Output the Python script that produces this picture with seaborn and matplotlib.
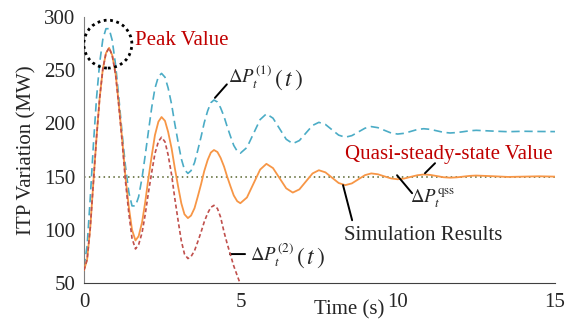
import numpy as np
import pandas as pd
import matplotlib.pyplot as plt
import seaborn as sns
from matplotlib.patches import Ellipse

### time grid (s) shared by the simulation result and the first-order estimate
time_s = [0, 0.1, 0.2, 0.3, 0.4, 0.5, 0.6, 0.7, 0.8,
          0.90, 1.01, 1.11, 1.22, 1.32, 1.43, 1.53, 1.64,
          1.74, 1.85, 1.95, 2.05, 2.16, 2.26, 2.37, 2.47,
          2.58, 2.68, 2.79, 2.89, 3.0, 3.10, 3.20, 3.31,
          3.41, 3.52, 3.62, 3.73, 3.83, 3.94, 4.04, 4.14,
          4.25, 4.35, 4.46, 4.56, 4.67, 4.77, 4.88, 4.98,
          5.19, 5.40, 5.61, 5.81, 6.02, 6.23, 6.44, 6.65,
          6.86, 7.07, 7.28, 7.48, 7.69, 7.90, 8.11, 8.32,
          8.53, 8.74, 8.95, 9.15, 9.36, 9.57, 9.78, 9.99,
          10.20, 10.41, 10.62, 10.82, 11.03, 11.24, 11.45, 11.66,
          11.87, 12.08, 12.29, 12.49, 13.0, 13.5, 14.0, 14.5, 15.0]

### simulation results (MW)
sim_mw = [62, 72, 102, 145, 187, 224, 251, 266, 271,
          264, 246, 218, 184, 150, 121, 100, 90,
          94, 107, 126, 148, 170, 189, 201.6, 206,
          202.4, 192, 176.6, 158.5, 140.4, 124.9, 114.6, 111,
          113.4, 120.3, 130.8, 143, 155.2, 165.7, 172.6, 175,
          173.1, 167.7, 159.5, 150, 140.5, 132.3, 126.9, 125,
          130.4, 143.5, 156.6, 162, 158, 148.5, 139, 135,
          138, 145.5, 153, 156, 154, 149, 144, 142,
          143.6, 147.5, 151.4, 153, 152.2, 150.2, 148.3, 147.5,
          148.2, 149.8, 151.3, 152, 151.6, 150.5, 149.4, 149,
          149.3, 150, 150.7, 151, 150.4, 149.7, 150, 150.3, 150]

### first-order estimate dP_t^(1)(t) (MW)
est1_mw = [65, 85, 130, 180, 224, 257, 279, 289, 289,
           278, 254, 224, 189, 160, 135, 122.5, 122.4,
           131, 149, 170, 192, 215.5, 233, 244, 247,
           243.4, 233.3, 218, 200, 182, 166.7, 156.6, 153,
           155.6, 163.1, 174.3, 187.5, 200.7, 211.9, 219.4, 222,
           220.1, 214.7, 206.5, 197, 187.5, 179.3, 173.9, 172,
           177.4, 190.5, 203.6, 209, 204.9, 195, 185.1, 181,
           183.9, 191, 198.1, 201, 199, 194, 189, 187,
           188.5, 192, 195.5, 197, 196, 193.5, 191, 190,
           190.7, 192.5, 194.3, 195, 194.4, 193, 191.6, 191,
           191.4, 192.2, 193.1, 193.5, 192.8, 192.2, 192.6, 192.4, 192.3]

### second-order estimate dP_t^(2)(t) (MW), runs below the axis after ~5 s
time_red = [0, 0.1, 0.2, 0.3, 0.4, 0.5, 0.6, 0.7, 0.8,
            0.90, 1.01, 1.11, 1.22, 1.32, 1.43, 1.53, 1.64,
            1.74, 1.85, 1.95, 2.05, 2.16, 2.26, 2.37, 2.47,
            2.58, 2.68, 2.79, 2.89, 3.0, 3.10, 3.20, 3.31,
            3.41, 3.52, 3.62, 3.73, 3.83, 3.94, 4.04, 4.14,
            4.25, 4.35, 4.46, 4.56, 4.67, 4.77, 4.88, 4.98, 5.19]
est2_mw = [62, 72, 102, 145, 187, 224, 251, 266, 271,
           264, 245, 216, 181, 146, 115, 92, 82,
           86, 97.3, 114.4, 134.5, 154.6, 171.7, 183, 187,
           182.7, 170.4, 151.8, 130, 108.2, 89.6, 77.3, 73,
           74.9, 80.3, 88.5, 98, 107.5, 115.7, 121.1, 123,
           120, 112, 98, 87, 76, 66, 57, 49, 33]

qss_mw = 150
x_ticks = [0, 5, 10, 15]
y_ticks = [50, 100, 150, 200, 250, 300]

df = pd.DataFrame({'t': time_s, 'sim': sim_mw, 'est1': est1_mw})
df2 = pd.DataFrame({'t': time_red, 'est2': est2_mw})

blue = '#4BACC6'
orange = '#F79646'
red = '#C0504D'
label_red = '#C00000'

sns.set_style("white")
plt.rcParams['font.family'] = ['Liberation Serif', 'DejaVu Serif']
plt.rcParams['mathtext.fontset'] = 'stix'
plt.rcParams['font.size'] = 15

fig, ax = plt.subplots(figsize=(5.76, 3.36), dpi=100)
fig.subplots_adjust(left=0.1458, right=0.9635, bottom=0.1577, top=0.9494)

### quasi-steady-state reference line
ax.axhline(qss_mw, color='#55622a', lw=1.1, linestyle=(0, (1, 2.2)), zorder=1)

sns.lineplot(data=df, x='t', y='est1', ax=ax, color=blue, lw=1.2,
             linestyle=(0, (5, 2.8)), zorder=2)
sns.lineplot(data=df, x='t', y='sim', ax=ax, color=orange, lw=1.3, zorder=3)
sns.lineplot(data=df2, x='t', y='est2', ax=ax, color=red, lw=1.2,
             linestyle=(0, (2.4, 1.6)), zorder=4)

ax.set_xlim(0, 15)
ax.set_ylim(50, 300)
ax.set_xticks(x_ticks)
ax.set_yticks(y_ticks)

sns.despine(ax=ax)
ax.spines['left'].set_color('#7f7f7f')
ax.spines['bottom'].set_color('#404040')
ax.tick_params(axis='both', direction='in', length=5, width=1, color='#7f7f7f',
               labelsize=15, pad=6)
ax.tick_params(axis='x', pad=7)

ax.set_xlabel('Time (s)', fontsize=15)
ax.set_ylabel('ITP Variation (MW)', fontsize=15)
ax.xaxis.set_label_coords(0.563, -0.065)
ax.yaxis.set_label_coords(-0.1, 0.5)

### peak marker
ax.add_patch(Ellipse((0.76, 274.5), 1.53, 45, fill=False, ec='black',
                     lw=2, linestyle=(0, (1, 1.3)), zorder=5))
ax.text(1.62, 278, 'Peak Value', color=label_red, fontsize=15, va='center')


def math_label(x, y, body, with_t=True):
    ### math part plus a taller "( t )" right after it
    txt = ax.text(x, y, body, fontsize=13.5, va='center', ha='left')
    if with_t:
        ax.annotate(r'$(\,t\,)$', xy=(1, 0.42), xycoords=txt, xytext=(1.5, 0),
                    textcoords='offset points', fontsize=17, va='center', ha='left')
    return txt


def leader(p0, p1):
    ax.annotate('', xy=p0, xytext=p1,
                arrowprops=dict(arrowstyle='-', color='black', lw=1.4,
                                shrinkA=0, shrinkB=0))


math_label(4.59, 243, r'$\Delta P_t^{(1)}$')
leader((4.17, 224), (4.55, 236.7))

math_label(5.29, 76, r'$\Delta P_t^{(2)}$')
leader((4.65, 77.2), (5.13, 77.2))

math_label(10.38, 130, r'$\Delta P_t^{\mathrm{qss}}$', with_t=False)
leader((9.97, 151.3), (10.45, 134.4))

ax.text(8.31, 171, 'Quasi-steady-state Value', color=label_red, fontsize=15,
        va='center', ha='left')
leader((10.86, 153.2), (11.18, 162.6))

ax.text(10.8, 95, 'Simulation Results', fontsize=15, va='center', ha='center')
leader((8.25, 142), (8.54, 109))

plt.savefig('out.png', dpi=100)
